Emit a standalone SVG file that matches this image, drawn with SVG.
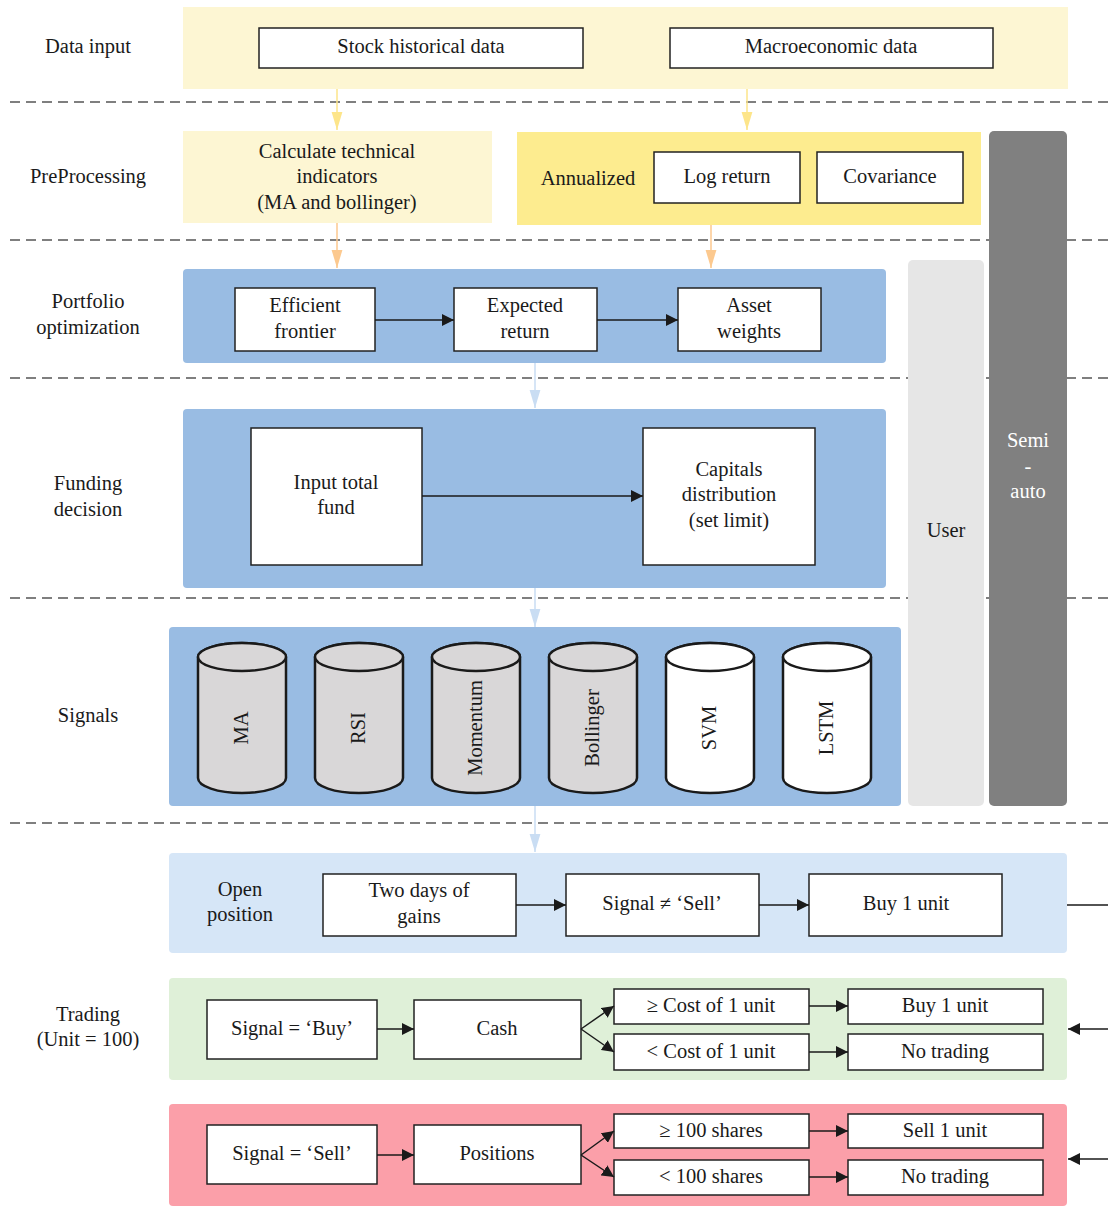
<svg xmlns="http://www.w3.org/2000/svg" width="1108" height="1223" viewBox="0 0 1108 1223">
<defs>
<marker id="ab" viewBox="0 0 10 10" refX="10" refY="5" markerWidth="12" markerHeight="12" markerUnits="userSpaceOnUse" orient="auto"><path d="M0,0 L10,5 L0,10 z" fill="#1a1a1a"/></marker>
<marker id="ay" viewBox="0 0 10 10" refX="10" refY="5" markerWidth="18" markerHeight="18" markerUnits="userSpaceOnUse" orient="auto"><path d="M0,2 L10,5 L0,8 z" fill="#fde58a"/></marker>
<marker id="ap" viewBox="0 0 10 10" refX="10" refY="5" markerWidth="18" markerHeight="18" markerUnits="userSpaceOnUse" orient="auto"><path d="M0,2 L10,5 L0,8 z" fill="#fcc98f"/></marker>
<marker id="al" viewBox="0 0 10 10" refX="10" refY="5" markerWidth="18" markerHeight="18" markerUnits="userSpaceOnUse" orient="auto"><path d="M0,2 L10,5 L0,8 z" fill="#c9ddf3"/></marker>
</defs>
<style>
text{font-family:"Liberation Serif","DejaVu Serif",serif;font-size:20.5px;fill:#1a1a1a;text-anchor:middle}
.box{fill:#fff;stroke:#222;stroke-width:1.5}
.dash{stroke:#555;stroke-width:1.6;stroke-dasharray:10 6;fill:none}
.c{stroke:#1a1a1a;stroke-width:1.5;fill:none}
.cy{stroke:#1a1a1a;stroke-width:2.5}
</style>
<rect width="1108" height="1223" fill="#fff"/>

<g id="dividers">
<line class="dash" x1="10" y1="102" x2="1108" y2="102"/>
<line class="dash" x1="10" y1="240" x2="1108" y2="240"/>
<line class="dash" x1="10" y1="378" x2="1108" y2="378"/>
<line class="dash" x1="10" y1="598" x2="1108" y2="598"/>
<line class="dash" x1="10" y1="823" x2="1108" y2="823"/>
</g>

<g id="labels">
<text x="88" y="53">Data input</text>
<text x="88" y="183">PreProcessing</text>
<text x="88" y="308">Portfolio</text>
<text x="88" y="334">optimization</text>
<text x="88" y="490">Funding</text>
<text x="88" y="516">decision</text>
<text x="88" y="722">Signals</text>
<text x="88" y="1021">Trading</text>
<text x="88" y="1046">(Unit = 100)</text>
</g>

<g id="data-input">
<rect x="183" y="7" width="885" height="82" fill="#fdf6d3"/>
<rect class="box" x="259" y="28" width="324" height="40"/>
<text x="421" y="53">Stock historical data</text>
<rect class="box" x="670" y="28" width="323" height="40"/>
<text x="831" y="53">Macroeconomic data</text>
</g>

<g id="semi-auto">
<rect x="989" y="131" width="78" height="675" rx="5" fill="#808080"/>
<text x="1028" y="447" style="fill:#fff">Semi</text>
<text x="1028" y="473" style="fill:#fff">-</text>
<text x="1028" y="498" style="fill:#fff">auto</text>
</g>

<g id="user">
<rect x="908" y="260" width="76" height="546" rx="5" fill="#e6e6e6"/>
<text x="946" y="537">User</text>
</g>

<g id="preprocessing">
<rect x="183" y="131" width="309" height="92" fill="#fdf6d3"/>
<text x="337" y="158">Calculate technical</text>
<text x="337" y="183">indicators</text>
<text x="337" y="209">(MA and bollinger)</text>
<rect x="517" y="132" width="464" height="93" fill="#fdec8f"/>
<text x="588" y="185">Annualized</text>
<rect class="box" x="654" y="152" width="146" height="51"/>
<text x="727" y="183">Log return</text>
<rect class="box" x="817" y="152" width="146" height="51"/>
<text x="890" y="183">Covariance</text>
</g>

<g id="portfolio">
<rect x="183" y="269" width="703" height="94" rx="4" fill="#99bce3"/>
<rect class="box" x="235" y="288" width="140" height="63"/>
<text x="305" y="312">Efficient</text>
<text x="305" y="338">frontier</text>
<rect class="box" x="454" y="288" width="143" height="63"/>
<text x="525" y="312">Expected</text>
<text x="525" y="338">return</text>
<rect class="box" x="678" y="288" width="143" height="63"/>
<text x="749" y="312">Asset</text>
<text x="749" y="338">weights</text>
</g>

<g id="funding">
<rect x="183" y="409" width="703" height="179" rx="4" fill="#99bce3"/>
<rect class="box" x="251" y="428" width="171" height="137"/>
<text x="336" y="489">Input total</text>
<text x="336" y="514">fund</text>
<rect class="box" x="643" y="428" width="172" height="137"/>
<text x="729" y="476">Capitals</text>
<text x="729" y="501">distribution</text>
<text x="729" y="527">(set limit)</text>
</g>

<g id="signals">
<rect x="169" y="627" width="732" height="179" rx="4" fill="#99bce3"/>
<g id="cyl-ma">
<path class="cy" d="M198,657 V778 A44,15 0 0 0 286,778 V657 A44,14 0 0 0 198,657 Z" fill="#d9d7d8"/>
<ellipse class="cy" cx="242" cy="657" rx="44" ry="14" fill="#d9d7d8"/>
<text transform="translate(248,728) rotate(-90)">MA</text>
</g>
<g id="cyl-rsi">
<path class="cy" d="M315,657 V778 A44,15 0 0 0 403,778 V657 A44,14 0 0 0 315,657 Z" fill="#d9d7d8"/>
<ellipse class="cy" cx="359" cy="657" rx="44" ry="14" fill="#d9d7d8"/>
<text transform="translate(365,728) rotate(-90)">RSI</text>
</g>
<g id="cyl-momentum">
<path class="cy" d="M432,657 V778 A44,15 0 0 0 520,778 V657 A44,14 0 0 0 432,657 Z" fill="#d9d7d8"/>
<ellipse class="cy" cx="476" cy="657" rx="44" ry="14" fill="#d9d7d8"/>
<text transform="translate(482,728) rotate(-90)">Momentum</text>
</g>
<g id="cyl-bollinger">
<path class="cy" d="M549,657 V778 A44,15 0 0 0 637,778 V657 A44,14 0 0 0 549,657 Z" fill="#d9d7d8"/>
<ellipse class="cy" cx="593" cy="657" rx="44" ry="14" fill="#d9d7d8"/>
<text transform="translate(599,728) rotate(-90)">Bollinger</text>
</g>
<g id="cyl-svm">
<path class="cy" d="M666,657 V778 A44,15 0 0 0 754,778 V657 A44,14 0 0 0 666,657 Z" fill="#fff"/>
<ellipse class="cy" cx="710" cy="657" rx="44" ry="14" fill="#fff"/>
<text transform="translate(716,728) rotate(-90)">SVM</text>
</g>
<g id="cyl-lstm">
<path class="cy" d="M783,657 V778 A44,15 0 0 0 871,778 V657 A44,14 0 0 0 783,657 Z" fill="#fff"/>
<ellipse class="cy" cx="827" cy="657" rx="44" ry="14" fill="#fff"/>
<text transform="translate(833,728) rotate(-90)">LSTM</text>
</g>
</g>

<g id="open-position">
<rect x="169" y="853" width="898" height="100" rx="4" fill="#d6e6f7"/>
<text x="240" y="896">Open</text>
<text x="240" y="921">position</text>
<rect class="box" x="323" y="874" width="193" height="62"/>
<text x="419" y="897">Two days of</text>
<text x="419" y="923">gains</text>
<rect class="box" x="566" y="874" width="193" height="62"/>
<text x="662" y="910">Signal ≠ ‘Sell’</text>
<rect class="box" x="809" y="874" width="193" height="62"/>
<text x="906" y="910">Buy 1 unit</text>
</g>

<g id="trading-buy">
<rect x="169" y="978" width="898" height="102" rx="4" fill="#dff0d8"/>
<rect class="box" x="207" y="1000" width="170" height="59"/>
<text x="292" y="1035">Signal = ‘Buy’</text>
<rect class="box" x="414" y="1000" width="167" height="59"/>
<text x="497" y="1035">Cash</text>
<rect class="box" x="614" y="989" width="195" height="35"/>
<text x="711" y="1012">≥ Cost of 1 unit</text>
<rect class="box" x="614" y="1034" width="195" height="36"/>
<text x="711" y="1058">&lt; Cost of 1 unit</text>
<rect class="box" x="848" y="989" width="195" height="35"/>
<text x="945" y="1012">Buy 1 unit</text>
<rect class="box" x="848" y="1034" width="195" height="36"/>
<text x="945" y="1058">No trading</text>
</g>

<g id="trading-sell">
<rect x="169" y="1104" width="898" height="102" rx="4" fill="#fb9fa9"/>
<rect class="box" x="207" y="1125" width="170" height="59"/>
<text x="292" y="1160">Signal = ‘Sell’</text>
<rect class="box" x="414" y="1125" width="167" height="59"/>
<text x="497" y="1160">Positions</text>
<rect class="box" x="614" y="1114" width="195" height="34"/>
<text x="711" y="1137">≥ 100 shares</text>
<rect class="box" x="614" y="1160" width="195" height="35"/>
<text x="711" y="1183">&lt; 100 shares</text>
<rect class="box" x="848" y="1114" width="195" height="34"/>
<text x="945" y="1137">Sell 1 unit</text>
<rect class="box" x="848" y="1160" width="195" height="35"/>
<text x="945" y="1183">No trading</text>
</g>

<g id="connectors">
<line x1="337" y1="89" x2="337" y2="130" stroke="#fde58a" stroke-width="1.5" marker-end="url(#ay)"/>
<line x1="747" y1="89" x2="747" y2="130" stroke="#fde58a" stroke-width="1.5" marker-end="url(#ay)"/>
<line x1="337" y1="223" x2="337" y2="268" stroke="#fcc98f" stroke-width="1.5" marker-end="url(#ap)"/>
<line x1="711" y1="225" x2="711" y2="268" stroke="#fcc98f" stroke-width="1.5" marker-end="url(#ap)"/>
<line x1="535" y1="363" x2="535" y2="408" stroke="#c9ddf3" stroke-width="1.5" marker-end="url(#al)"/>
<line x1="535" y1="588" x2="535" y2="627" stroke="#c9ddf3" stroke-width="1.5" marker-end="url(#al)"/>
<line x1="535" y1="806" x2="535" y2="852" stroke="#c9ddf3" stroke-width="1.5" marker-end="url(#al)"/>
<line class="c" x1="375" y1="320" x2="454" y2="320" marker-end="url(#ab)"/>
<line class="c" x1="597" y1="320" x2="678" y2="320" marker-end="url(#ab)"/>
<line class="c" x1="422" y1="496" x2="643" y2="496" marker-end="url(#ab)"/>
<line class="c" x1="516" y1="905" x2="566" y2="905" marker-end="url(#ab)"/>
<line class="c" x1="759" y1="905" x2="809" y2="905" marker-end="url(#ab)"/>
<line class="c" x1="1067" y1="905" x2="1108" y2="905"/>
<line class="c" x1="377" y1="1029" x2="414" y2="1029" marker-end="url(#ab)"/>
<line class="c" x1="581" y1="1029" x2="614" y2="1006" marker-end="url(#ab)"/>
<line class="c" x1="581" y1="1029" x2="614" y2="1052" marker-end="url(#ab)"/>
<line class="c" x1="809" y1="1006" x2="848" y2="1006" marker-end="url(#ab)"/>
<line class="c" x1="809" y1="1052" x2="848" y2="1052" marker-end="url(#ab)"/>
<line class="c" x1="1108" y1="1029" x2="1068" y2="1029" marker-end="url(#ab)"/>
<line class="c" x1="377" y1="1155" x2="414" y2="1155" marker-end="url(#ab)"/>
<line class="c" x1="581" y1="1155" x2="614" y2="1131" marker-end="url(#ab)"/>
<line class="c" x1="581" y1="1155" x2="614" y2="1177" marker-end="url(#ab)"/>
<line class="c" x1="809" y1="1131" x2="848" y2="1131" marker-end="url(#ab)"/>
<line class="c" x1="809" y1="1177" x2="848" y2="1177" marker-end="url(#ab)"/>
<line class="c" x1="1108" y1="1159" x2="1068" y2="1159" marker-end="url(#ab)"/>
</g>
</svg>
